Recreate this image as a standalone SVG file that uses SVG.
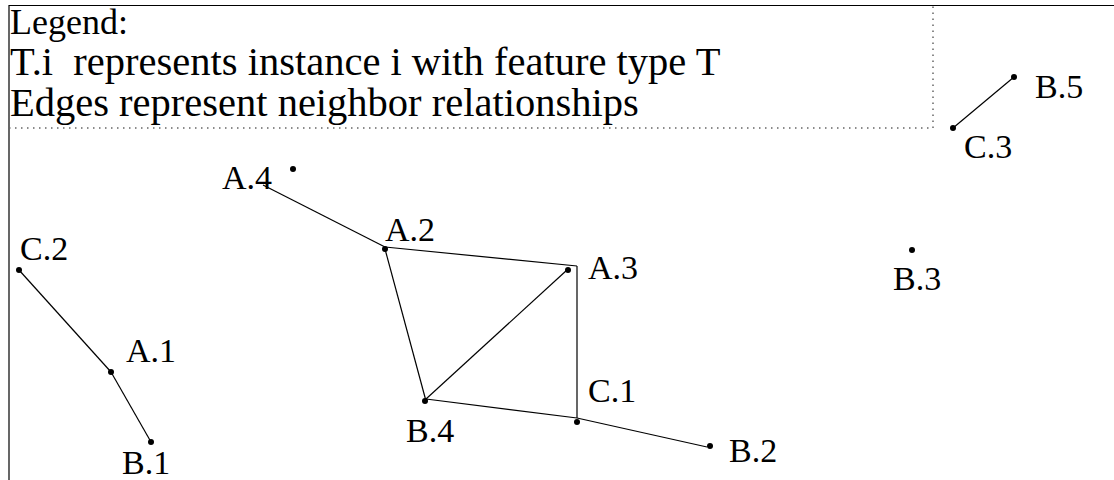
<svg xmlns="http://www.w3.org/2000/svg" width="1114" height="480" viewBox="0 0 1114 480">
<style>
.lbl{font-family:"Liberation Serif","Times New Roman",serif;font-size:34px;fill:#000}
.leg{font-family:"Liberation Serif","Times New Roman",serif;fill:#000}
.edge{stroke:#000;stroke-width:1.2;fill:none}
.dot{fill:#000}
</style>
<rect width="1114" height="480" fill="#fff"/>
<g id="frame">
<line x1="9" y1="5.5" x2="1114" y2="5.5" stroke="#000" stroke-width="1.2"/>
<line x1="9" y1="5" x2="9" y2="480" stroke="#000" stroke-width="1.2"/>
</g>
<g id="legend">
<path d="M9 128 H933 V6" stroke="#666" stroke-width="1.5" stroke-dasharray="1.5 4.5" fill="none"/>
<text class="leg" x="10" y="34" font-size="36">Legend:</text>
<text class="leg" x="10" y="75" font-size="40.5" xml:space="preserve">T.i  represents instance i with feature type T</text>
<text class="leg" x="10" y="116" font-size="40.5">Edges represent neighbor relationships</text>
</g>
<g id="connectors">
<line class="edge" x1="19" y1="270" x2="111" y2="372"/>
<line class="edge" x1="111" y1="372" x2="151" y2="442"/>
<line class="edge" x1="263" y1="185" x2="385" y2="247"/>
<line class="edge" x1="385" y1="247" x2="577" y2="266"/>
<line class="edge" x1="577" y1="266" x2="577" y2="418"/>
<line class="edge" x1="385" y1="249" x2="426" y2="401"/>
<line class="edge" x1="426" y1="399" x2="567" y2="270"/>
<line class="edge" x1="426" y1="399" x2="577" y2="418"/>
<line class="edge" x1="577" y1="418" x2="707" y2="447"/>
<line class="edge" x1="953" y1="128" x2="1014" y2="77"/>
</g>
<g id="C2"><circle class="dot" cx="19" cy="270" r="3"/><text class="lbl" x="20" y="260">C.2</text></g>
<g id="A1"><circle class="dot" cx="111" cy="372" r="3"/><text class="lbl" x="126" y="362">A.1</text></g>
<g id="B1"><circle class="dot" cx="151" cy="442" r="3"/><text class="lbl" x="122" y="474">B.1</text></g>
<g id="A4"><circle class="dot" cx="293" cy="169" r="3"/><text class="lbl" x="222" y="189">A.4</text></g>
<g id="A2"><circle class="dot" cx="385" cy="249" r="3"/><text class="lbl" x="385" y="241">A.2</text></g>
<g id="A3"><circle class="dot" cx="568" cy="270" r="3"/><text class="lbl" x="588" y="279">A.3</text></g>
<g id="B4"><circle class="dot" cx="425" cy="401" r="3"/><text class="lbl" x="406" y="442">B.4</text></g>
<g id="C1"><circle class="dot" cx="577" cy="422" r="3"/><text class="lbl" x="588" y="402">C.1</text></g>
<g id="B2"><circle class="dot" cx="710" cy="446" r="3"/><text class="lbl" x="729" y="462">B.2</text></g>
<g id="B3"><circle class="dot" cx="912" cy="250" r="3"/><text class="lbl" x="893" y="290">B.3</text></g>
<g id="C3"><circle class="dot" cx="953" cy="128" r="3"/><text class="lbl" x="964" y="158">C.3</text></g>
<g id="B5"><circle class="dot" cx="1014" cy="77" r="3"/><text class="lbl" x="1035" y="98">B.5</text></g>
</svg>
